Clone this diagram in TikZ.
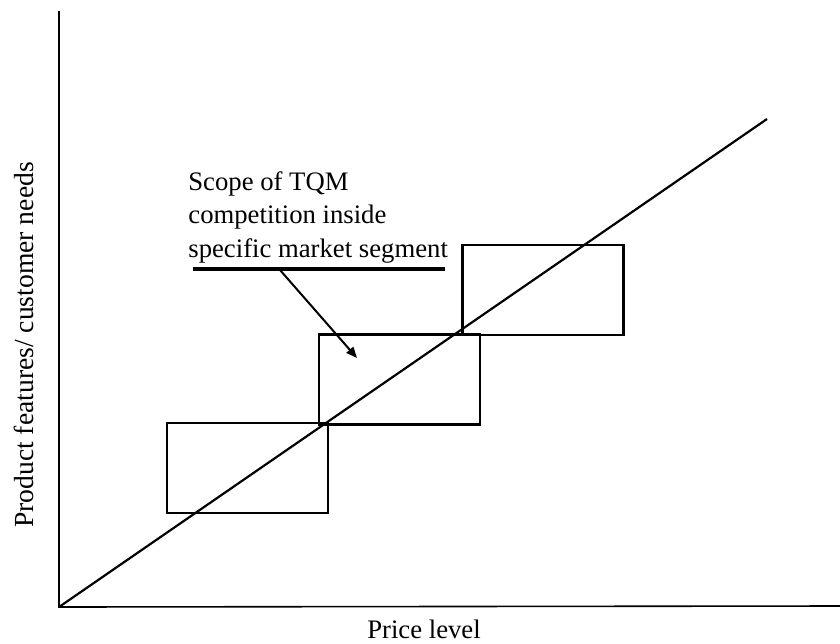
\documentclass[tikz,border=0pt]{standalone}
\usepackage{fontspec}
\setmainfont{Liberation Serif}
\usetikzlibrary{arrows.meta}
\begin{document}
\begin{tikzpicture}[x=0.5pt,y=-0.5pt,
  seg/.style={draw,line width=1.15pt,rectangle,inner sep=0pt,
    minimum width=80.5pt,minimum height=45pt},
  lbl/.style={font=\fontsize{13.35}{16.6}\selectfont,inner sep=0pt},
  axis/.style={line width=1.3pt,line cap=rect},
]
\useasboundingbox (0,0) rectangle (840,643);
% axes
\coordinate (o) at (59,607);
\coordinate (ytop) at (59,12);
\coordinate (xend) at (840,606);
\draw[axis] (o) -- (ytop);
\draw[line width=0.8pt] (o) -- (xend);
% market segments
\node[seg] (s1) at (247.5,468) {};
\node[seg] (s2) at (399.5,379.5) {};
\node[seg] (s3) at (543,290) {};
% price / features line
\coordinate (lineend) at (767,119);
\draw[line width=1.1pt] (o) -- (lineend);
% callout (base anchor sits on the last line)
\node[lbl,align=left,anchor=base west] (txt) at (188,257)
  {Scope of TQM\\competition inside\\specific market segment};
\coordinate (ul1) at (193,269);
\coordinate (ul2) at (445,269);
\draw[line width=1.6pt] (ul1) -- (ul2);
\coordinate (ptr) at (280,270);
\coordinate (tip) at (357,358);
\draw[line width=1pt,-{Triangle[length=5.5pt,width=4.5pt]}] (ptr) -- (tip);
% axis labels
\node[lbl,anchor=base] (xl) at (424,638) {Price level};
\node[lbl,font=\fontsize{13.8}{16.5}\selectfont,anchor=base,rotate=90] (yl) at (33,345) {Product features/ customer needs};
\end{tikzpicture}
\end{document}
